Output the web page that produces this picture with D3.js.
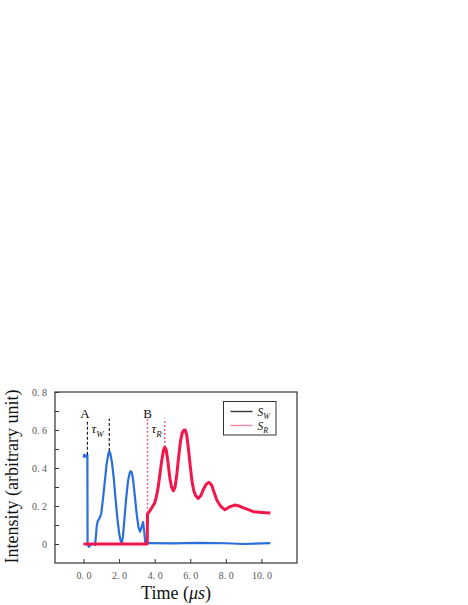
<!DOCTYPE html>
<html>
<head>
<meta charset="utf-8">
<script src="https://cdn.jsdelivr.net/npm/d3@7"></script>
<style>
  body { margin: 0; background: #fff; }
  text { font-family: "Liberation Serif", "DejaVu Serif", serif; }
</style>
</head>
<body>
<svg width="468" height="605"></svg>
<script>
// S_W (blue) trace, time in microseconds
const swTime = [0.0, 0.05, 0.12, 0.2, 0.22, 0.23, 0.3, 0.45, 0.6, 0.65, 0.7, 0.74, 0.8, 0.9, 1.0, 1.1, 1.2, 1.3, 1.4, 1.45, 1.5, 1.6, 1.7, 1.8, 1.9, 2.0, 2.08, 2.15, 2.22, 2.3, 2.4, 2.5, 2.6, 2.66, 2.72, 2.8, 2.9, 3.0, 3.1, 3.18, 3.27, 3.35, 3.42, 3.48, 3.7, 5.0, 6.5, 8.0, 9.0, 10.5];
const swValue = [0.455, 0.47, 0.46, 0.465, 0.47, 0.0, -0.015, 0.0, 0.0, -0.005, 0.04, 0.09, 0.12, 0.135, 0.16, 0.24, 0.33, 0.42, 0.475, 0.487, 0.48, 0.43, 0.35, 0.24, 0.14, 0.06, 0.02, 0.003, 0.04, 0.13, 0.24, 0.33, 0.375, 0.383, 0.375, 0.33, 0.24, 0.15, 0.085, 0.065, 0.09, 0.115, 0.06, 0.0, 0.005, 0.003, 0.006, 0.004, 0.0, 0.005];

// S_R (red) trace
const srTime = [0.0, 1.0, 2.0, 3.0, 3.58, 3.6, 3.7, 3.8, 3.9, 4.0, 4.1, 4.2, 4.3, 4.4, 4.5, 4.57, 4.65, 4.75, 4.85, 4.95, 5.05, 5.15, 5.25, 5.35, 5.45, 5.55, 5.65, 5.72, 5.8, 5.9, 6.0, 6.1, 6.2, 6.3, 6.45, 6.6, 6.75, 6.9, 7.05, 7.2, 7.35, 7.5, 7.7, 7.95, 8.2, 8.5, 8.75, 9.0, 9.3, 9.55, 9.9, 10.2, 10.5];
const srValue = [0.0, 0.0, 0.0, 0.0, 0.0, 0.16, 0.17, 0.185, 0.2, 0.215, 0.25, 0.3, 0.37, 0.44, 0.495, 0.51, 0.495, 0.43, 0.35, 0.3, 0.28, 0.3, 0.37, 0.46, 0.54, 0.585, 0.6, 0.6, 0.575, 0.5, 0.41, 0.33, 0.28, 0.255, 0.24, 0.255, 0.29, 0.315, 0.325, 0.31, 0.27, 0.23, 0.2, 0.18, 0.195, 0.205, 0.2, 0.19, 0.18, 0.17, 0.167, 0.165, 0.163];

const timeTicks = [0, 2, 4, 6, 8, 10];
const intensityTicks = [0, 0.1, 0.2, 0.3, 0.4, 0.5, 0.6, 0.7, 0.8];
const intensityLabels = [0, 0.2, 0.4, 0.6, 0.8];

// delay markers: time, from value, to value, series
const markerTime = [0.22, 1.45, 3.6, 4.57];
const markerFrom = [0.47, 0.49, 0.165, 0.51];
const markerTo = [0.65, 0.66, 0.66, 0.66];
const markerSeries = ["W", "W", "R", "R"];

const svg = d3.select("svg");
const frame = { left: 55, right: 297, top: 392, bottom: 563 };

const x = d3.scaleLinear().domain([-1.6, 12]).range([frame.left, frame.right]);
const y = d3.scaleLinear().domain([-0.1, 0.8]).range([frame.bottom, frame.top]);

const colors = { W: "#2b6fdc", R: "#f2164a", legendR: "#f5879e", dashW: "#111", dashR: "#f0587a" };

const fmtX = (d) => d3.format(".1f")(d).replace(".", ". ");
const fmtY = (d) => d === 0 ? "0" : fmtX(d);

// traces
const line = d3.line().x((d) => x(d[0])).y((d) => y(d[1]));
const swData = swTime.map((t, i) => [t, swValue[i]]);
const srData = srTime.map((t, i) => [t, srValue[i]]);

svg.append("path")
  .attr("d", line(swData))
  .attr("fill", "none")
  .attr("stroke", colors.W)
  .attr("stroke-width", 2.2)
  .attr("stroke-linejoin", "round");

svg.append("path")
  .attr("d", line(srData))
  .attr("fill", "none")
  .attr("stroke", colors.R)
  .attr("stroke-width", 3)
  .attr("stroke-linejoin", "round");

// markers
markerTime.forEach((t, i) => {
  svg.append("line")
    .attr("x1", x(t)).attr("x2", x(t))
    .attr("y1", y(markerFrom[i])).attr("y2", y(markerTo[i]))
    .attr("stroke", markerSeries[i] === "W" ? colors.dashW : colors.dashR)
    .attr("stroke-width", markerSeries[i] === "W" ? 1.1 : 1.4)
    .attr("stroke-dasharray", markerSeries[i] === "W" ? "3,2" : "2,2");
});

// frame
svg.append("rect")
  .attr("x", frame.left).attr("y", frame.top)
  .attr("width", frame.right - frame.left)
  .attr("height", frame.bottom - frame.top)
  .attr("fill", "none")
  .attr("stroke", "#333")
  .attr("stroke-width", 1.2);

// axes with inward ticks
const xAxis = d3.axisBottom(x).tickValues(timeTicks).tickSizeInner(-4).tickSizeOuter(0).tickFormat(fmtX);
const gx = svg.append("g").attr("transform", `translate(0,${frame.bottom})`).call(xAxis);
gx.select(".domain").remove();
gx.selectAll(".tick line").attr("stroke", "#333");
gx.selectAll(".tick text")
  .attr("y", 9)
  .attr("dy", "0.71em")
  .attr("fill", "#555")
  .style("font-size", "10px");

const yAxis = d3.axisLeft(y).tickValues(intensityTicks).tickSizeInner(-4).tickSizeOuter(0)
  .tickFormat((d) => intensityLabels.some((v) => Math.abs(v - d) < 1e-9) ? fmtY(d) : "");
const gy = svg.append("g").attr("transform", `translate(${frame.left},0)`).call(yAxis);
gy.select(".domain").remove();
gy.selectAll(".tick line").attr("stroke", "#333");
gy.selectAll(".tick text")
  .attr("x", -8)
  .attr("fill", "#555")
  .style("font-size", "10px");

// axis titles
const xt = svg.append("text")
  .attr("x", (frame.left + frame.right) / 2)
  .attr("y", 599)
  .attr("text-anchor", "middle")
  .style("font-size", "18px")
  .attr("fill", "#111");
xt.append("tspan").text("Time (");
xt.append("tspan").style("font-style", "italic").text("μs");
xt.append("tspan").text(")");

svg.append("text")
  .attr("transform", `translate(18,${(frame.top + frame.bottom) / 2 - 1}) rotate(-90)`)
  .attr("text-anchor", "middle")
  .style("font-size", "18px")
  .attr("fill", "#111")
  .text("Intensity (arbitrary unit)");

// annotations
const addLabel = (t, v, main, sub, italic) => {
  const txt = svg.append("text")
    .attr("x", x(t))
    .attr("y", y(v))
    .style("font-size", "13px")
    .attr("fill", "#111");
  txt.append("tspan").style("font-style", italic ? "italic" : "normal").text(main);
  if (sub) {
    txt.append("tspan").attr("dy", 4).style("font-size", "9px").style("font-style", "italic").text(sub);
  }
  return txt;
};
addLabel(0.08, 0.663, "A", null, false).attr("text-anchor", "middle");
addLabel(3.6, 0.663, "B", null, false).attr("text-anchor", "middle");
addLabel(0.45, 0.585, "τ", "W", true);
addLabel(3.83, 0.585, "τ", "R", true);

// legend
const legend = svg.append("g").attr("transform", "translate(223.5,401.5)");
legend.append("rect")
  .attr("width", 52.5).attr("height", 33.5)
  .attr("fill", "#fff")
  .attr("stroke", "#333")
  .attr("stroke-width", 1);
const legendItems = [["W", "#333"], ["R", colors.legendR]];
legendItems.forEach(([key, c], i) => {
  const ly = 10 + i * 14;
  legend.append("line")
    .attr("x1", 7).attr("x2", 29)
    .attr("y1", ly).attr("y2", ly)
    .attr("stroke", c)
    .attr("stroke-width", 1.4);
  const lt = legend.append("text")
    .attr("x", 34).attr("y", ly + 4)
    .style("font-size", "11.5px")
    .style("font-style", "italic")
    .attr("fill", "#111");
  lt.append("tspan").text("S");
  lt.append("tspan").attr("dy", 3).style("font-size", "8px").text(key);
});
</script>
</body>
</html>
